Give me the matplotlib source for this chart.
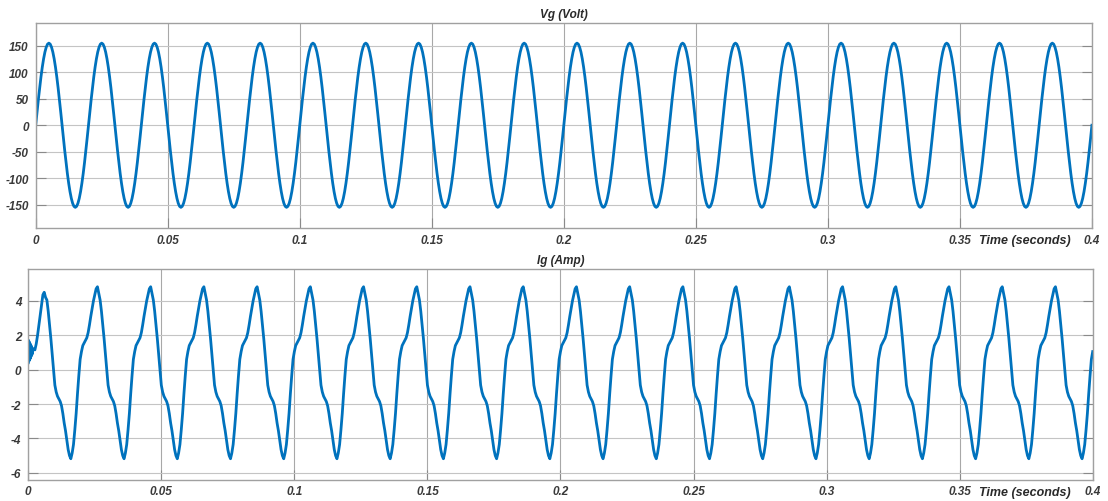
import matplotlib.pyplot as plt
import numpy as np

# one 20 ms period of the grid voltage, sampled every 0.5 ms (Volt)
vg_cycle = [0, 24.2, 47.9, 70.4, 91.1, 109.6, 125.4, 138.1, 147.4, 153.1,
            155.0, 153.1, 147.4, 138.1, 125.4, 109.6, 91.1, 70.4, 47.9, 24.2,
            0, -24.2, -47.9, -70.4, -91.1, -109.6, -125.4, -138.1, -147.4, -153.1,
            -155.0, -153.1, -147.4, -138.1, -125.4, -109.6, -91.1, -70.4, -47.9, -24.2]

# one steady-state period of the grid current, same sampling (Amp)
ig_cycle = [1.05, 1.4, 1.55, 1.69, 1.85, 2.15, 2.6, 3.1, 3.55, 4.0,
            4.35, 4.7, 4.82, 4.45, 4.05, 3.4, 2.6, 1.8, 0.9, -0.05,
            -0.9, -1.3, -1.55, -1.7, -1.85, -2.1, -2.55, -3.1, -3.55, -4.1,
            -4.65, -5.0, -5.18, -4.85, -4.35, -3.5, -2.55, -1.4, -0.35, 0.6]

# start-up transient of the current (time in ms, value in Amp)
ig_start_t = [0.0, 0.15, 0.3, 0.45, 0.6, 0.75, 0.9, 1.05, 1.2, 1.35, 1.5, 1.7,
              2.0, 2.5, 3.0, 3.5, 4.0, 4.5, 5.0, 5.5, 6.0, 6.5]
ig_start = [0.4, 1.7, 0.5, 1.6, 0.6, 1.5, 0.7, 1.4, 0.8, 1.3, 0.9, 1.1,
            1.2, 1.15, 1.5, 2.0, 2.6, 3.2, 3.8, 4.35, 4.5, 4.2]

n_cycles = 20
dt = 0.0005
xticks = [0, 0.05, 0.1, 0.15, 0.2, 0.25, 0.3, 0.35, 0.4]
xticklabels = ['0', '0.05', '0.1', '0.15', '0.2', '0.25', '0.3', '0.35', '0.4']
vg_ticks = [-150, -100, -50, 0, 50, 100, 150]
ig_ticks = [-6, -4, -2, 0, 2, 4]

t = np.arange(n_cycles * len(vg_cycle) + 1) * dt
vg = np.append(np.tile(vg_cycle, n_cycles), vg_cycle[0])
ig_steady = np.append(np.tile(ig_cycle, n_cycles), ig_cycle[0])

keep = t >= 0.00699
t_ig = np.concatenate([np.array(ig_start_t) / 1000, t[keep]])
ig = np.concatenate([ig_start, ig_steady[keep]])

plt.rcParams['font.family'] = ['Liberation Sans', 'DejaVu Sans']
plt.rcParams['axes.unicode_minus'] = False
blue = '#0072BD'
label_col = '#3a3a3a'

fig = plt.figure(figsize=(11.08, 5.02), dpi=100)
ax1 = fig.add_axes([0.0322, 0.5438, 0.9533, 0.4084])
ax2 = fig.add_axes([0.0255, 0.0424, 0.9607, 0.4197])


def style(ax, yticks, title):
    ax.set_xlim(0, 0.4)
    ax.set_xticks(xticks)
    ax.set_xticklabels(xticklabels)
    ax.set_yticks(yticks)
    ax.grid(axis='x', color='#a8a8a8', linewidth=0.8)
    ax.grid(axis='y', color='#c4c4c4', linewidth=0.8)
    ax.set_axisbelow(True)
    for s in ax.spines.values():
        s.set_color('#a0a0a0')
        s.set_linewidth(1.0)
    ax.tick_params(axis='both', direction='in', length=7, width=0.8,
                   color='#8a8a8a', right=True, top=False, pad=4,
                   labelsize=8.5, labelcolor=label_col)
    ax.tick_params(axis='y', pad=5)
    for lab in ax.get_xticklabels() + ax.get_yticklabels():
        lab.set_fontweight('bold')
        lab.set_fontstyle('italic')
    ax.set_title(title, fontsize=8.5, fontweight='bold', style='italic',
                 color='#2a2a2a', pad=4)
    ax.text(0.936, -0.028, 'Time (seconds)', transform=ax.transAxes,
            ha='center', va='top', fontsize=9, fontweight='bold',
            style='italic', color='#2a2a2a')


ax1.plot(t, vg, color=blue, linewidth=2.0)
ax1.set_ylim(-194, 193)
style(ax1, vg_ticks, 'Vg (Volt)')

ax2.plot(t_ig, ig, color=blue, linewidth=2.0)
ax2.set_ylim(-6.4, 5.85)
style(ax2, ig_ticks, 'Ig (Amp)')

plt.savefig('out.png', dpi=100, facecolor='white')
